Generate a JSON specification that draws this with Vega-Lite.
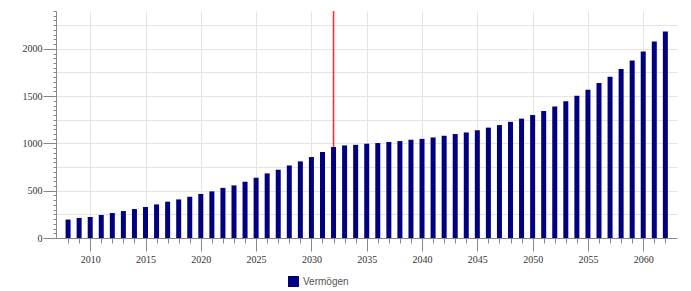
{
  "$schema": "https://vega.github.io/schema/vega-lite/v6.json",
  "width": 621,
  "height": 227,
  "autosize": {"type": "none"},
  "padding": {"left": 56, "top": 11, "right": 14, "bottom": 53},
  "background": "white",
  "config": {
    "view": {"stroke": null},
    "axis": {
      "labelFont": "Liberation Serif",
      "labelFontSize": 10,
      "labelColor": "#333333",
      "domainColor": "#888888",
      "tickColor": "#888888",
      "gridColor": "#e4e4e4",
      "labelOverlap": false
    },
    "legend": {"labelFont": "Liberation Sans", "labelFontSize": 10, "labelColor": "#555555"}
  },
  "datasets": {
    "bars": [
      {"Jahr": 2008, "Vermögen": 195}, {"Jahr": 2009, "Vermögen": 212}, {"Jahr": 2010, "Vermögen": 222},
      {"Jahr": 2011, "Vermögen": 243}, {"Jahr": 2012, "Vermögen": 264}, {"Jahr": 2013, "Vermögen": 285},
      {"Jahr": 2014, "Vermögen": 306}, {"Jahr": 2015, "Vermögen": 328}, {"Jahr": 2016, "Vermögen": 355},
      {"Jahr": 2017, "Vermögen": 384}, {"Jahr": 2018, "Vermögen": 408}, {"Jahr": 2019, "Vermögen": 436},
      {"Jahr": 2020, "Vermögen": 466}, {"Jahr": 2021, "Vermögen": 493}, {"Jahr": 2022, "Vermögen": 530},
      {"Jahr": 2023, "Vermögen": 556}, {"Jahr": 2024, "Vermögen": 595}, {"Jahr": 2025, "Vermögen": 637},
      {"Jahr": 2026, "Vermögen": 683}, {"Jahr": 2027, "Vermögen": 722}, {"Jahr": 2028, "Vermögen": 767},
      {"Jahr": 2029, "Vermögen": 810}, {"Jahr": 2030, "Vermögen": 856}, {"Jahr": 2031, "Vermögen": 909},
      {"Jahr": 2032, "Vermögen": 962}, {"Jahr": 2033, "Vermögen": 979}, {"Jahr": 2034, "Vermögen": 985},
      {"Jahr": 2035, "Vermögen": 997}, {"Jahr": 2036, "Vermögen": 1004}, {"Jahr": 2037, "Vermögen": 1015},
      {"Jahr": 2038, "Vermögen": 1025}, {"Jahr": 2039, "Vermögen": 1039}, {"Jahr": 2040, "Vermögen": 1048},
      {"Jahr": 2041, "Vermögen": 1063}, {"Jahr": 2042, "Vermögen": 1081}, {"Jahr": 2043, "Vermögen": 1099},
      {"Jahr": 2044, "Vermögen": 1116}, {"Jahr": 2045, "Vermögen": 1139}, {"Jahr": 2046, "Vermögen": 1167},
      {"Jahr": 2047, "Vermögen": 1194}, {"Jahr": 2048, "Vermögen": 1228}, {"Jahr": 2049, "Vermögen": 1262},
      {"Jahr": 2050, "Vermögen": 1300}, {"Jahr": 2051, "Vermögen": 1343}, {"Jahr": 2052, "Vermögen": 1390},
      {"Jahr": 2053, "Vermögen": 1447}, {"Jahr": 2054, "Vermögen": 1504}, {"Jahr": 2055, "Vermögen": 1568},
      {"Jahr": 2056, "Vermögen": 1638}, {"Jahr": 2057, "Vermögen": 1705}, {"Jahr": 2058, "Vermögen": 1788},
      {"Jahr": 2059, "Vermögen": 1877}, {"Jahr": 2060, "Vermögen": 1972}, {"Jahr": 2061, "Vermögen": 2078},
      {"Jahr": 2062, "Vermögen": 2184}
    ],
    "marker": [{"Jahr": 2032, "Art": "Marke"}]
  },
  "encoding": {
    "x": {
      "field": "Jahr", "type": "quantitative",
      "scale": {"domain": [2007.36, 2062.6], "nice": false, "zero": false},
      "axis": {
        "title": null,
        "values": [2008,2009,2010,2011,2012,2013,2014,2015,2016,2017,2018,2019,2020,2021,2022,2023,2024,2025,2026,2027,2028,2029,2030,2031,2032,2033,2034,2035,2036,2037,2038,2039,2040,2041,2042,2043,2044,2045,2046,2047,2048,2049,2050,2051,2052,2053,2054,2055,2056,2057,2058,2059,2060,2061,2062],
        "labelExpr": "datum.value % 5 === 0 ? format(datum.value, 'd') : ''",
        "labelOverlap": false,
        "labelFlush": false,
        "tickSize": {"condition": {"test": "datum.value % 5 === 0", "value": 13}, "value": 5},
        "gridOpacity": {"condition": {"test": "datum.value % 5 === 0", "value": 1}, "value": 0},
        "grid": true,
        "labelPadding": 3,
        "labelBaseline": "top"
      }
    }
  },
  "layer": [
    {
      "data": {"name": "marker"},
      "mark": {"type": "rule", "strokeWidth": 1.6, "opacity": 1},
      "encoding": {
        "stroke": {"field": "Art", "type": "nominal", "scale": {"range": ["#ff3030"]}, "legend": null}
      }
    },
    {
      "data": {"name": "bars"},
      "mark": {"type": "bar", "size": 5},
      "encoding": {
        "y": {
          "field": "Vermögen", "type": "quantitative",
          "scale": {"domain": [0, 2400], "nice": false},
          "axis": {
            "title": null,
            "values": [0,50,100,150,200,250,300,350,400,450,500,550,600,650,700,750,800,850,900,950,1000,1050,1100,1150,1200,1250,1300,1350,1400,1450,1500,1550,1600,1650,1700,1750,1800,1850,1900,1950,2000,2050,2100,2150,2200,2250,2300,2350,2400],
            "labelExpr": "datum.value % 500 === 0 ? format(datum.value, 'd') : ''",
            "labelOverlap": false,
            "tickSize": {"condition": {"test": "datum.value % 500 === 0", "value": 13}, "value": 3},
            "gridOpacity": {"condition": {"test": "datum.value % 250 === 0", "value": 1}, "value": 0},
            "grid": true,
            "labelPadding": 1
          }
        },
        "fill": {
          "datum": "Vermögen", "type": "nominal",
          "scale": {"range": ["#000080"]},
          "legend": {
            "title": null,
            "orient": "none",
            "legendX": 232,
            "legendY": 265,
            "symbolType": "square",
            "symbolSize": 121,
            "symbolStrokeWidth": 0
          }
        }
      }
    }
  ],
  "resolve": {"scale": {"stroke": "independent"}}
}
